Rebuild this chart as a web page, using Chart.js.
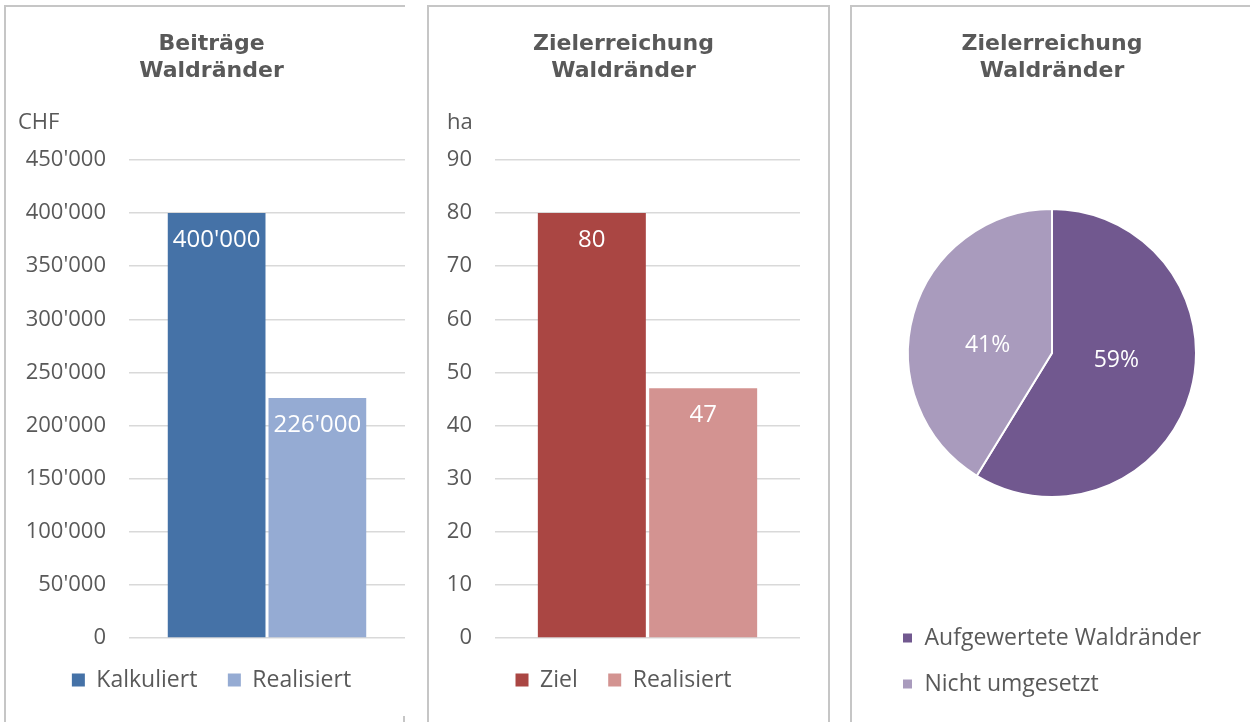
<!DOCTYPE html>
<html>
<head>
<meta charset="utf-8">
<script src="https://cdn.jsdelivr.net/npm/chart.js@4.4.0/dist/chart.umd.min.js"></script>
<style>
    body { margin: 0; background: #fff; width: 1250px; height: 722px; overflow: hidden; position: relative; }
    .panel { position: absolute; border: 0 solid #c6c6c6; }
    .box { position: absolute; }
</style>
</head>
<body>
<div class="panel" style="left:4px;top:5px;width:399px;height:730px;border-top-width:2px;border-left-width:2px"></div>
<div class="panel" style="left:403px;top:716px;width:0;height:10px;border-left-width:2px"></div>
<div class="panel" style="left:427px;top:5px;width:399px;height:730px;border-top-width:2px;border-left-width:2px;border-right-width:2px"></div>
<div class="panel" style="left:850px;top:5px;width:500px;height:730px;border-top-width:2px;border-left-width:2px"></div>

<div class="box" style="left:6px;top:8px;width:399px;height:714px"><canvas id="costChart"></canvas></div>
<div class="box" style="left:430px;top:8px;width:398px;height:714px"><canvas id="areaChart"></canvas></div>
<div class="box" style="left:853px;top:8px;width:397px;height:714px"><canvas id="pieChart"></canvas></div>

<script>
// Beiträge (CHF)
const costLabels = ["Kalkuliert", "Realisiert"];
const costValues = [400000, 226000];
const costColors = ["#4572A7", "#95ABD3"];

// Zielerreichung (ha)
const areaLabels = ["Ziel", "Realisiert"];
const areaValues = [80, 47];
const areaColors = ["#AA4643", "#D39391"];

// Zielerreichung Anteil
const pieLabels = ["Aufgewertete Waldränder", "Nicht umgesetzt"];
const pieValues = [47, 33];
const pieColors = ["#71588F", "#A99BBD"];

Chart.defaults.font.family = "'Open Sans', sans-serif";
Chart.defaults.color = "#595959";
Chart.defaults.animation = false;

const titleFont = { family: "'DejaVu Sans', sans-serif", size: 22, weight: "bold", lineHeight: 1.227 };

function swiss(v) {
    return String(v).replace(/\B(?=(\d{3})+(?!\d))/g, "'");
}

// white value labels just inside the top of each bar
const barValueLabels = {
    id: "barValueLabels",
    afterDatasetsDraw(chart) {
        const ctx = chart.ctx;
        ctx.save();
        ctx.fillStyle = "#fff";
        ctx.font = "24px 'Open Sans'";
        ctx.textAlign = "center";
        ctx.textBaseline = "middle";
        chart.data.datasets.forEach((ds, i) => {
            chart.getDatasetMeta(i).data.forEach((bar, j) => {
                ctx.fillText(swiss(ds.data[j]), bar.x, bar.y + 27);
            });
        });
        ctx.restore();
    }
};

// percentages inside the slices
const pieValueLabels = {
    id: "pieValueLabels",
    afterDatasetsDraw(chart) {
        const ctx = chart.ctx;
        const values = chart.data.datasets[0].data;
        const total = values.reduce((a, b) => a + b, 0);
        ctx.save();
        ctx.fillStyle = "#fff";
        ctx.font = "23px 'Open Sans'";
        ctx.textAlign = "center";
        ctx.textBaseline = "middle";
        chart.getDatasetMeta(0).data.forEach((arc, i) => {
            const p = arc.getProps(["x", "y", "startAngle", "endAngle", "outerRadius"], true);
            const mid = (p.startAngle + p.endAngle) / 2 - 0.16;
            const r = p.outerRadius * 0.45;
            ctx.fillText(Math.round(values[i] / total * 100) + "%", p.x + Math.cos(mid) * r, p.y + Math.sin(mid) * r);
        });
        ctx.restore();
    }
};

function barChart(id, title, unit, labels, values, colors, max, step, axisWidth, padding) {
    return new Chart(document.getElementById(id), {
        type: "bar",
        data: {
            labels: [""],
            datasets: labels.map((l, i) => ({
                label: l, data: [values[i]], backgroundColor: colors[i],
                categoryPercentage: 0.73, barPercentage: 0.97
            }))
        },
        options: {
            responsive: true,
            maintainAspectRatio: false,
            layout: { padding: padding },
            plugins: {
                title: { display: true, text: title, font: titleFont, padding: { top: 22.5, bottom: 0 } },
                subtitle: { display: true, text: unit, align: "start", font: { size: 22 }, padding: { top: 25.3, bottom: 23.8 } },
                legend: { position: "bottom", labels: { boxWidth: 13, boxHeight: 13, padding: 30.5, font: { size: 23 } } },
                tooltip: { enabled: false }
            },
            scales: {
                x: { display: false },
                y: {
                    min: 0, max: max,
                    ticks: { stepSize: step, padding: 23, font: { size: 22 }, callback: v => swiss(v) },
                    grid: { color: "#d9d9d9", lineWidth: 1.5, drawTicks: false },
                    border: { display: false },
                    afterFit: s => { s.width = axisWidth; }
                }
            }
        },
        plugins: [barValueLabels]
    });
}

barChart("costChart", ["Beiträge", "Waldränder"], "CHF", costLabels, costValues, costColors, 450000, 50000, 111,
    { left: 12, right: 0, top: 0, bottom: 20.5 });
barChart("areaChart", ["Zielerreichung", "Waldränder"], "ha", areaLabels, areaValues, areaColors, 90, 10, 48,
    { left: 17, right: 28, top: 0, bottom: 20.5 });

new Chart(document.getElementById("pieChart"), {
    type: "pie",
    data: {
        labels: pieLabels,
        datasets: [{ data: pieValues, backgroundColor: pieColors, borderColor: "#fff", borderWidth: 2 }]
    },
    options: {
        responsive: true,
        maintainAspectRatio: false,
        layout: { padding: { left: 26, right: 25, top: 0, bottom: 16.5 } },
        plugins: {
            title: { display: true, text: ["Zielerreichung", "Waldränder"], font: titleFont, padding: { top: 22.5, bottom: 123.5 } },
            legend: {
                position: "bottom", align: "start",
                title: { display: true, text: "", font: { size: 10 }, padding: { top: 93.5, bottom: 0 } },
                labels: { boxWidth: 11, boxHeight: 11, padding: 23, font: { size: 23 } }
            },
            tooltip: { enabled: false }
        }
    },
    plugins: [pieValueLabels]
});
</script>
</body>
</html>
